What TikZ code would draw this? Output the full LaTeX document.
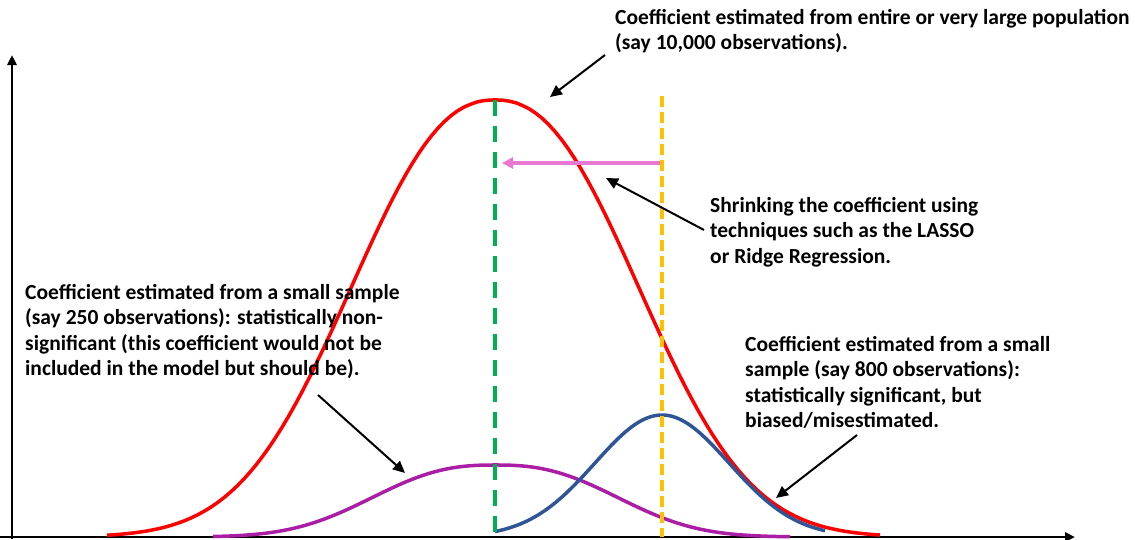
\documentclass[tikz,border=0pt]{standalone}
\usepackage{fontspec}
\setmainfont{Carlito}
\usetikzlibrary{arrows.meta}
\definecolor{curvered}{RGB}{255,0,0}
\definecolor{curveblue}{RGB}{47,85,151}
\definecolor{curvepurple}{RGB}{170,30,165}
\definecolor{meangreen}{RGB}{0,176,80}
\definecolor{meanorange}{RGB}{255,192,0}
\definecolor{shrinkpink}{RGB}{232,120,210}
\begin{document}
\begin{tikzpicture}[x=1pt,y=-1pt,
	axis/.style={line width=2.5pt,-{Triangle[length=10pt,width=9pt]}},
	pointer/.style={line width=2pt,-{Triangle[length=12pt,width=11pt]}},
	curve/.style={line width=3.5pt},
	note/.style={anchor=north west,inner sep=0pt,align=left,font=\fontsize{21.5}{25.5}\selectfont\bfseries}]
	\useasboundingbox (0,0) rectangle (1135,539);
	% axes
	\coordinate (O)  at (12,537);
	\coordinate (Y)  at (12,55);
	\coordinate (X0) at (0,537);
	\coordinate (X)  at (1075,537);
	\draw[axis] (X0) -- (X);
	\draw[axis] (12,539) -- (Y);
	% curves
	\draw[curve, curvered]    plot[domain=107:880, samples=120] (\x, {537-437*exp(-((abs(\x-495)+0.01)/185)^2.3)});
	\draw[curve, curvepurple] plot[domain=213:790, samples=100] (\x, {537-72*exp(-((abs(\x-495)+0.01)/150)^2.54)});
	\draw[curve, curveblue]   plot[domain=495:825, samples=100] (\x, {537-122*exp(-((\x-662)/67)^2/2)});
	% means
	\coordinate (G1) at (495,100);
	\coordinate (G2) at (495,537);
	\coordinate (Or1) at (662,96);
	\coordinate (Or2) at (662,537);
	\draw[line width=3.5pt, meangreen, dash pattern=on 16pt off 10pt] (G1) -- (G2);
	\draw[line width=3.5pt, meanorange, dash pattern=on 11pt off 5pt] (Or1) -- (Or2);
	% shrinkage
	\coordinate (S1) at (660,163);
	\coordinate (S2) at (502,163);
	\draw[line width=3.5pt, shrinkpink, -{Triangle[length=11pt,width=11pt]}] (S1) -- (S2);
	% labels
	\node (popnote)    at (615,9)   [note] {Coefficient estimated from entire or very large population\\(say 10,000 observations).};
	\node (shrinknote) at (710,197) [note] {Shrinking the coefficient using\\techniques such as the LASSO\\or Ridge Regression.};
	\node (smallnote)  at (25,284)  [note] {Coefficient estimated from a small sample\\(say 250 observations): statistically non-\\significant (this coefficient would not be\\included in the model but should be).};
	\node (biasnote)   at (745,336) [note] {Coefficient estimated from a small\\sample (say 800 observations):\\statistically significant, but\\biased/misestimated.};
	% pointers
	\coordinate (popTail)    at (605,55);
	\coordinate (popHead)    at (550,97);
	\coordinate (shrinkTail) at (704,230);
	\coordinate (shrinkHead) at (606,178);
	\coordinate (smallTail)  at (318,395);
	\coordinate (smallHead)  at (405,473);
	\coordinate (biasTail)   at (857,435);
	\coordinate (biasHead)   at (776,498);
	\draw[pointer] (popTail) -- (popHead);
	\draw[pointer] (shrinkTail) -- (shrinkHead);
	\draw[pointer] (smallTail) -- (smallHead);
	\draw[pointer] (biasTail) -- (biasHead);
\end{tikzpicture}
\end{document}
